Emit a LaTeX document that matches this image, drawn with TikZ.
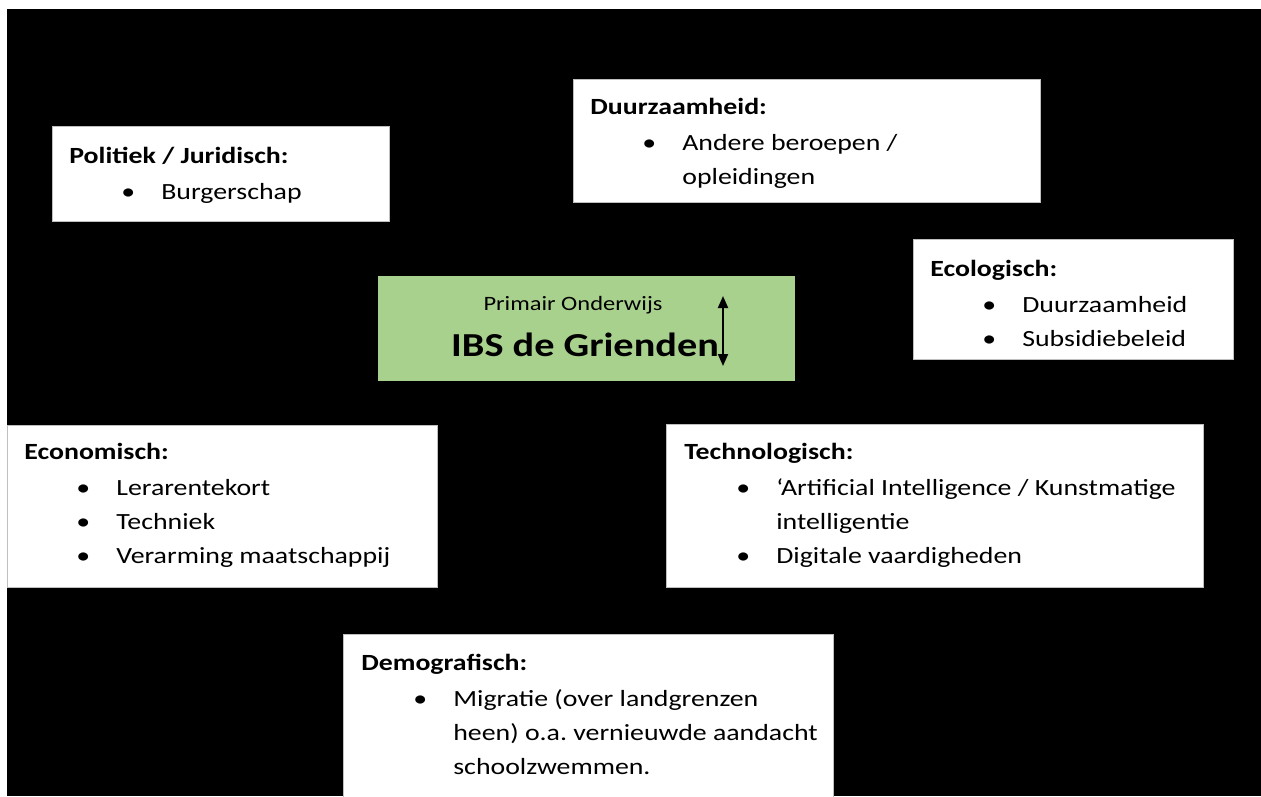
\documentclass[tikz,border=0pt]{standalone}
\usepackage{fontspec}
\setmainfont[FakeStretch=1.2]{Carlito}
\usepackage{tikz}
\usetikzlibrary{arrows.meta,calc,positioning}
\definecolor{grienden}{RGB}{169,209,142}
\newlength\ux
\setlength\ux{0.02cm}
\frenchspacing
\newcommand{\lijst}[2]{\begin{tabular}[t]{@{}l@{}}\textbf{#1}\\[2\ux]#2\end{tabular}}
\newcommand{\punt}[1]{\hspace*{52\ux}\makebox[40\ux][l]{\textbullet}#1}
\newcommand{\verder}[1]{\hspace*{92\ux}#1}
\tikzset{
  vak/.style={rectangle, fill=white, draw=gray!50, line width=0.4pt, anchor=north west, inner sep=0pt},
  tekst/.style={anchor=base west, inner sep=0pt, font=\fontsize{13.2pt}{19.35pt}\selectfont},
}

\begin{document}
\begin{tikzpicture}[x=0.02cm, y=-0.02cm]
\useasboundingbox (0,0) rectangle (1261,796);
\fill[white] (0,0) rectangle (1261,796);
\fill[black] (7,9) rectangle (1261,796);

\node[rectangle, fill=grienden, anchor=north west, minimum width=8.34cm, minimum height=2.1cm] (midden) at (378,276) {};
\node[anchor=base, font=\fontsize{11.6pt}{14pt}\selectfont] (po) at ($(midden.north west)+(195,34)$) {Primair Onderwijs};
\node[anchor=base, font=\fontsize{19.1pt}{23pt}\selectfont\bfseries] (ibs) at ($(midden.north west)+(207,80)$) {IBS de Grienden};
\coordinate (pijl-boven) at ($(midden.north west)+(345,20)$);
\coordinate (pijl-onder) at ($(midden.north west)+(345,90)$);
\draw[{Triangle[length=0.24cm,width=0.2cm]}-{Triangle[length=0.24cm,width=0.2cm]}, line width=1.1pt] (pijl-boven) -- (pijl-onder);

\node[vak, minimum width=6.74cm, minimum height=1.9cm] (politiek) at (52,126) {};
\node[tekst] (politiek-t) at ($(politiek.north west)+(17,37)$) {\lijst{Politiek / Juridisch:}{\punt{Burgerschap}}};

\node[vak, minimum width=9.34cm, minimum height=2.46cm] (duurzaam) at (573,79) {};
\node[tekst] (duurzaam-t) at ($(duurzaam.north west)+(17,35)$) {\lijst{Duurzaamheid:}{\punt{Andere beroepen /}\\\verder{opleidingen}}};

\node[vak, minimum width=6.4cm, minimum height=2.4cm] (ecologisch) at (913,239) {};
\node[tekst] (ecologisch-t) at ($(ecologisch.north west)+(17,37)$) {\lijst{Ecologisch:}{\punt{Duurzaamheid}\\\punt{Subsidiebeleid}}};

\node[vak, minimum width=8.6cm, minimum height=3.24cm] (economisch) at (7,425) {};
\node[tekst] (economisch-t) at ($(economisch.north west)+(17,34)$) {\lijst{Economisch:}{\punt{Lerarentekort}\\\punt{Techniek}\\\punt{Verarming maatschappij}}};

\node[vak, minimum width=10.74cm, minimum height=3.26cm] (technologisch) at (666,424) {};
\node[tekst] (technologisch-t) at ($(technologisch.north west)+(18,35)$) {\lijst{Technologisch:}{\punt{‘Artificial Intelligence / Kunstmatige}\\\verder{intelligentie}\\\punt{Digitale vaardigheden}}};

\node[vak, minimum width=9.8cm, minimum height=3.4cm] (demografisch) at (343,634) {};
\node[tekst] (demografisch-t) at ($(demografisch.north west)+(18,36)$) {\lijst{Demografisch:}{\punt{Migratie (over landgrenzen}\\\verder{heen) o.a. vernieuwde aandacht}\\\verder{schoolzwemmen.}}};
\end{tikzpicture}
\end{document}
